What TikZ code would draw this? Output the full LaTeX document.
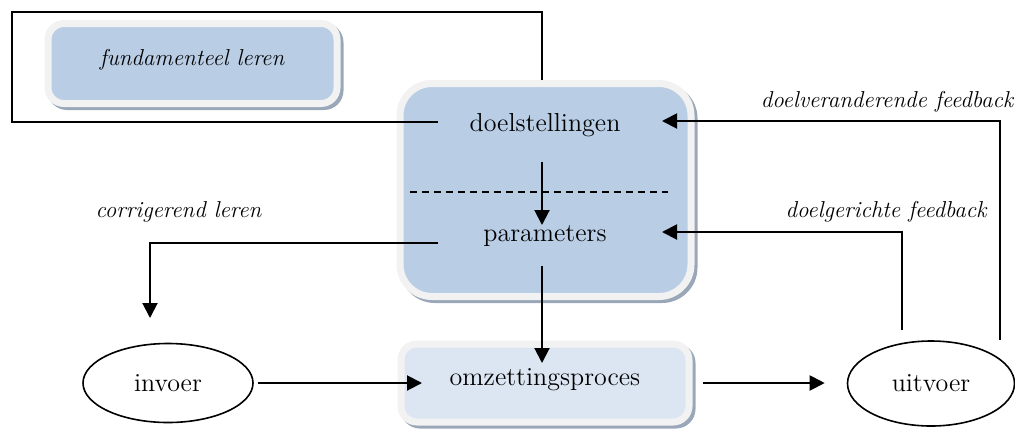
\documentclass[tikz,border=0pt]{standalone}
\usetikzlibrary{shapes.geometric,arrows.meta}
\definecolor{panelblue}{HTML}{B9CDE5}
\definecolor{panellight}{HTML}{DCE6F2}
\definecolor{rimwhite}{HTML}{F2F2F2}
\definecolor{rimshadow}{HTML}{9AA7B8}
\begin{document}
\begin{tikzpicture}[x=0.5pt,y=-0.5pt,
  card/.style={draw=rimwhite, line width=3.5pt, inner sep=0pt,
    preaction={draw=rimshadow, line width=3.5pt,
      transform canvas={xshift=1.5pt,yshift=-1.5pt}}},
  txt/.style={font=\fontsize{13}{15}\selectfont, inner sep=0pt},
  lbl/.style={font=\itshape\fontsize{11.5}{14}\selectfont, inner sep=0pt},
  oval/.style={ellipse, draw, line width=0.8pt, inner sep=0pt,
    font=\fontsize{13}{15}\selectfont},
  conn/.style={line width=1pt},
  arr/.style={line width=1pt, -{Triangle[length=7.5pt,width=7.5pt]}}]
\path[use as bounding box] (0,0) rectangle (1015,429);

% boxes
\node[card, fill=panelblue, rounded corners=8pt,
  minimum width=144.5pt, minimum height=40pt] (fund) at (192.5,63.5) {};
\node[card, fill=panelblue, rounded corners=16pt,
  minimum width=145.5pt, minimum height=106.5pt] (main) at (545.5,190) {};
\node[card, fill=panellight, rounded corners=8pt,
  minimum width=144pt, minimum height=39pt] (omz) at (545,383) {};

% ellipses
\node[oval, minimum width=85pt, minimum height=39.5pt] (invoer) at (168,383) {invoer};
\node[oval, minimum width=83.5pt, minimum height=42.5pt] (uitvoer) at (931,383.5) {uitvoer};

% texts
\node[lbl] (funtxt) at (192,60) {fundamenteel leren};
\node[txt, anchor=base] (doel) at (545,131) {doelstellingen};
\node[txt, anchor=base] (param) at (545,241) {parameters};
\node[txt] (omztxt) at (545,379.5) {omzettingsproces};
\node[lbl, anchor=base] (lcorr) at (178.5,217) {corrigerend leren};
\node[lbl, anchor=base] (lveran) at (887,107) {doelveranderende feedback};
\node[lbl, anchor=base] (lgericht) at (886,217) {doelgerichte feedback};

% separator between goals and parameters
\draw[line width=0.7pt, dash pattern=on 3.5pt off 2.5pt]
  ([shift={(-135.5,2)}]main.center) -- ([shift={(122.5,2)}]main.center);

% fundamental learning loop
\coordinate (loopcorner) at (12,12);
\draw[conn] ([shift={(-3.5,-110)}]main.center) |- (loopcorner)
  |- ([shift={(-107,-9)}]doel.base);

% internal flow
\draw[arr] ([shift={(-3,31)}]doel.base) -- ([shift={(-3,-16)}]param.base);
\draw[arr] ([shift={(-3,25)}]param.base) -- ([shift={(-3,-20)}]omz.center);

% corrective learning
\coordinate (corrend) at (150,318);
\draw[arr] ([shift={(-107,2)}]param.base) -| (corrend);

% main process flow
\coordinate (outtip) at ([xshift=-11pt]uitvoer.west);
\draw[arr] ([xshift=2pt]invoer.east) -- ([shift={(-123,0)}]omz.center);
\draw[arr] ([shift={(158,0)}]omz.center) coordinate (outstart) -- (outstart -| outtip);

% feedback loops
\draw[arr] ([shift={(-29,-53.5)}]uitvoer.center) |- ([shift={(117,-9)}]param.base);
\draw[arr] ([shift={(69,-43.5)}]uitvoer.center) |- ([shift={(117,-10)}]doel.base);
\end{tikzpicture}
\end{document}
